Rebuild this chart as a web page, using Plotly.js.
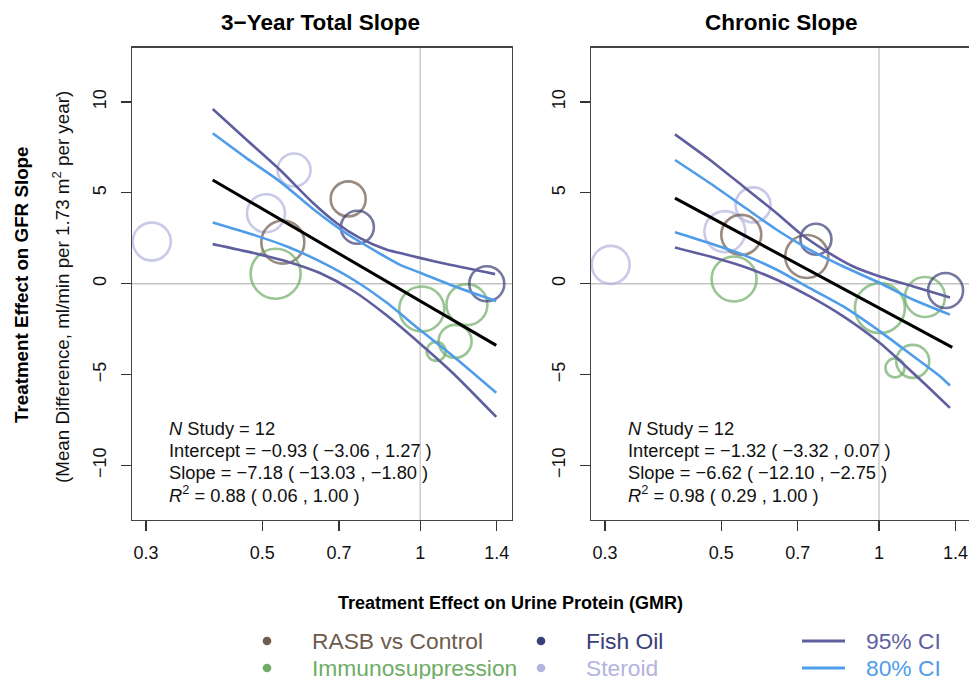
<!DOCTYPE html>
<html>
<head>
<meta charset="utf-8">
<script src="https://cdn.plot.ly/plotly-3.0.1.min.js"></script>
<style>html,body{margin:0;padding:0;background:#fff;}#chart{width:969px;height:679px;}</style>
</head>
<body>
<div id="chart"></div>
<script>
// ---------- data: 3-Year Total Slope (left) ----------
const groups = ["RASB vs Control", "Immunosuppression", "Fish Oil", "Steroid"];
const groupColors = ["#6e5b4c", "#6fac66", "#3a3e78", "#b3b3df"];

const totalRasbX = [0.547, 0.729];
const totalRasbY = [2.29, 4.67];
const totalRasbW = [43, 35];
const totalImmX = [0.530, 1.007, 1.228, 1.166, 1.073];
const totalImmY = [0.55, -1.39, -1.15, -3.17, -3.72];
const totalImmW = [50, 45, 41, 33, 19];
const totalFishX = [0.759, 1.34];
const totalFishY = [3.11, 0.0];
const totalFishW = [33, 35];
const totalSterX = [0.3076, 0.508, 0.5747];
const totalSterY = [2.32, 3.88, 6.26];
const totalSterW = [38, 38, 33];

const totalFitX = [0.402, 1.397];
const totalFitY = [5.71, -3.39];
const total95UpX = [0.402, 0.467, 0.5405, 0.6256, 0.6934, 0.768, 0.864, 0.916, 1.003, 1.14, 1.39];
const total95UpY = [9.62, 7.91, 6.26, 4.43, 3.33, 2.51, 1.87, 1.69, 1.41, 1.04, 0.53];
const total95LoX = [0.402, 0.481, 0.557, 0.644, 0.746, 0.864, 1.0, 1.158, 1.397];
const total95LoY = [2.18, 1.69, 1.23, 0.59, -0.40, -1.75, -3.30, -4.95, -7.33];
const total80UpX = [0.402, 0.467, 0.5405, 0.6256, 0.7245, 0.839, 0.916, 1.003, 1.14, 1.397];
const total80UpY = [8.28, 6.90, 5.62, 4.10, 2.75, 1.65, 1.04, 0.59, -0.05, -0.95];
const total80LoX = [0.402, 0.481, 0.557, 0.644, 0.746, 0.864, 1.0, 1.158, 1.397];
const total80LoY = [3.37, 2.69, 2.05, 1.23, 0.22, -1.05, -2.55, -4.00, -6.00];

// ---------- data: Chronic Slope (right) ----------
const chronRasbX = [0.546, 0.728];
const chronRasbY = [2.69, 1.50];
const chronRasbW = [40, 43];
const chronImmX = [0.529, 1.004, 1.224, 1.160, 1.073];
const chronImmY = [0.26, -1.34, -0.73, -4.27, -4.63];
const chronImmW = [45, 50, 40, 33, 19];
const chronFishX = [0.758, 1.34];
const chronFishY = [2.45, -0.37];
const chronFishW = [31, 35];
const chronSterX = [0.3076, 0.508, 0.575];
const chronSterY = [1.04, 2.87, 4.34];
const chronSterW = [38, 41, 35];

const chronFitX = [0.408, 1.38];
const chronFitY = [4.71, -3.50];
const chron95UpX = [0.408, 0.476, 0.551, 0.638, 0.7067, 0.794, 0.893, 1.004, 1.163, 1.366];
const chron95UpY = [8.22, 6.81, 5.35, 3.88, 2.78, 1.78, 0.95, 0.40, -0.15, -0.75];
const chron95LoX = [0.408, 0.476, 0.551, 0.638, 0.738, 0.855, 1.004, 1.18, 1.366];
const chron95LoY = [2.00, 1.50, 0.95, 0.22, -0.70, -1.80, -3.26, -5.09, -6.83];
const chron80UpX = [0.408, 0.476, 0.551, 0.638, 0.738, 0.855, 1.004, 1.163, 1.366];
const chron80UpY = [6.81, 5.53, 4.25, 2.97, 1.87, 0.95, 0.04, -0.88, -1.70];
const chron80LoX = [0.408, 0.476, 0.551, 0.638, 0.738, 0.855, 1.004, 1.163, 1.307, 1.366];
const chron80LoY = [2.84, 2.23, 1.59, 0.77, -0.24, -1.25, -2.62, -3.99, -5.09, -5.60];

// reference lines
const refX = [1, 1];
const refY = [-13, 13];

const xTickVals = [0.3, 0.5, 0.7, 1, 1.4];
const xTickText = ["0.3", "0.5", "0.7", "1", "1.4"];
const yTickVals = [-10, -5, 0, 5, 10];
const yTickText = ["\u221210", "\u22125", "0", "5", "10"];

const statsTotal = ["<i>N</i> Study = 12",
  "Intercept = \u22120.93 ( \u22123.06 , 1.27 )",
  "Slope = \u22127.18 ( \u221213.03 , \u22121.80 )",
  "<i>R</i><sup>2</sup> = 0.88 ( 0.06 , 1.00 )"];
const statsChron = ["<i>N</i> Study = 12",
  "Intercept = \u22121.32 ( \u22123.32 , 0.07 )",
  "Slope = \u22126.62 ( \u221212.10 , \u22122.75 )",
  "<i>R</i><sup>2</sup> = 0.98 ( 0.29 , 1.00 )"];

// ---------- build ----------
const FONT = "Liberation Sans, Arial, Helvetica, sans-serif";
const C95 = "#5f5e9f", C80 = "#4f9de8", CREF = "#c4c4c4";
const traces = [];
function bubbles(x, y, w, color, xa, ya) {
  traces.push({x: x, y: y, xaxis: xa, yaxis: ya, type: "scatter", mode: "markers",
    hoverinfo: "skip",
    marker: {size: w, color: "rgba(0,0,0,0)", line: {color: color, width: 2.6}}});
}
function curve(x, y, color, width, xa, ya, shape) {
  traces.push({x: x, y: y, xaxis: xa, yaxis: ya, type: "scatter", mode: "lines",
    hoverinfo: "skip", line: {color: color, width: width, shape: shape || "spline", smoothing: 0.7}});
}
curve(refX, refY, CREF, 1.3, "x", "y", "linear");
curve(refX, refY, CREF, 1.3, "x2", "y2", "linear");

bubbles(totalSterX, totalSterY, totalSterW, groupColors[3], "x", "y");
bubbles(totalRasbX, totalRasbY, totalRasbW, groupColors[0], "x", "y");
bubbles(totalImmX, totalImmY, totalImmW, groupColors[1], "x", "y");
bubbles(totalFishX, totalFishY, totalFishW, groupColors[2], "x", "y");
curve(total95UpX, total95UpY, C95, 2.6, "x", "y");
curve(total95LoX, total95LoY, C95, 2.6, "x", "y");
curve(total80UpX, total80UpY, C80, 2.6, "x", "y");
curve(total80LoX, total80LoY, C80, 2.6, "x", "y");
curve(totalFitX, totalFitY, "#000000", 3, "x", "y", "linear");

bubbles(chronSterX, chronSterY, chronSterW, groupColors[3], "x2", "y2");
bubbles(chronRasbX, chronRasbY, chronRasbW, groupColors[0], "x2", "y2");
bubbles(chronImmX, chronImmY, chronImmW, groupColors[1], "x2", "y2");
bubbles(chronFishX, chronFishY, chronFishW, groupColors[2], "x2", "y2");
curve(chron95UpX, chron95UpY, C95, 2.6, "x2", "y2");
curve(chron95LoX, chron95LoY, C95, 2.6, "x2", "y2");
curve(chron80UpX, chron80UpY, C80, 2.6, "x2", "y2");
curve(chron80LoX, chron80LoY, C80, 2.6, "x2", "y2");
curve(chronFitX, chronFitY, "#000000", 3, "x2", "y2", "linear");

const W = 969, H = 679;
const px = v => v / W, py = v => (H - v) / H;

function xAxis(domain, range, anchor) {
  return {domain: domain, range: range, type: "log", anchor: anchor,
    tickvals: xTickVals, ticktext: xTickText, ticks: "outside", ticklen: 10, tickwidth: 1.2,
    tickcolor: "#333", showline: true, linecolor: "#444", linewidth: 1.3, mirror: true,
    showgrid: false, zeroline: false, ticklabelstandoff: 6,
    tickfont: {family: FONT, size: 18, color: "#111"}};
}
function yAxis(anchor, mirror) {
  return {domain: [py(520), py(47.5)], range: [-13, 13], anchor: anchor,
    tickvals: yTickVals, ticktext: yTickText, ticks: "outside", ticklen: 10, tickwidth: 1.2,
    tickcolor: "#333", showline: true, linecolor: "#444", linewidth: 1.3, mirror: mirror,
    showgrid: false, zeroline: false, tickangle: -90, ticklabelstandoff: 8,
    tickfont: {family: FONT, size: 18, color: "#111"}};
}

const annotations = [];
function ann(text, x, y, opts) {
  annotations.push(Object.assign({text: text, x: x, y: y, xref: "paper", yref: "paper",
    showarrow: false, xanchor: "left", yanchor: "middle",
    font: {family: FONT, size: 18.3, color: "#111"}}, opts || {}));
}
ann("<b>3\u2212Year Total Slope</b>", px(320), py(23), {xanchor: "center", font: {family: FONT, size: 22.5, color: "#000"}});
ann("<b>Chronic Slope</b>", px(781), py(23), {xanchor: "center", font: {family: FONT, size: 22.5, color: "#000"}});
const statY = [428, 450, 472, 494];
statsTotal.forEach((t, i) => ann(t, px(167), py(statY[i])));
statsChron.forEach((t, i) => ann(t, px(626), py(statY[i])));
ann("<b>Treatment Effect on Urine Protein (GMR)</b>", px(510), py(603), {xanchor: "center", font: {family: FONT, size: 18, color: "#000"}});
ann("<b>Treatment Effect on GFR Slope</b>", px(22), py(285), {xanchor: "center", textangle: -90, font: {family: FONT, size: 18.8, color: "#000"}});
ann("(Mean Difference, ml/min per 1.73 m<sup>2</sup> per year)", px(61), py(287), {xanchor: "center", textangle: -90, font: {family: FONT, size: 18.8, color: "#111"}});

// legend
const legX = [267, 267, 541, 541];
const legTextX = [310, 310, 584, 584];
const legY = [641, 668, 641, 668];
const legOrder = [0, 1, 2, 3];
const shapes = [];
legOrder.forEach((g, i) => {
  shapes.push({type: "circle", xref: "paper", yref: "paper",
    x0: px(legX[i] - 4.3), x1: px(legX[i] + 4.3), y0: py(legY[i] + 4.3), y1: py(legY[i] - 4.3),
    fillcolor: groupColors[g], line: {width: 0}});
  ann(groups[g], px(legTextX[i]), py(legY[i]), {font: {family: FONT, size: 22.8, color: groupColors[g]}});
});
[["95% CI", C95, 641], ["80% CI", C80, 668]].forEach(d => {
  shapes.push({type: "line", xref: "paper", yref: "paper", x0: px(802), x1: px(845), y0: py(d[2]), y1: py(d[2]),
    line: {color: d[1], width: 3}});
  ann(d[0], px(864), py(d[2]), {font: {family: FONT, size: 22.8, color: d[1]}});
});
// horizontal reference line y = 0
[["x", "y"], ["x2", "y2"]].forEach(a => {
  shapes.push({type: "line", xref: a[0] + " domain", yref: a[1], x0: 0, x1: 1, y0: 0, y1: 0,
    line: {color: CREF, width: 1.3}, layer: "below"});
});

const layout = {
  width: W, height: H, margin: {l: 0, r: 0, t: 0, b: 0},
  paper_bgcolor: "#fff", plot_bgcolor: "#fff", showlegend: false,
  xaxis: xAxis([px(132), px(512)], [Math.log10(0.282), Math.log10(1.497)], "y"),
  yaxis: yAxis("x", true),
  xaxis2: xAxis([px(591), 1], [-0.5496, 0.1718], "y2"),
  yaxis2: yAxis("x2", false),
  annotations: annotations, shapes: shapes
};
Plotly.newPlot("chart", traces, layout, {displayModeBar: false, staticPlot: true});
</script>
</body>
</html>
